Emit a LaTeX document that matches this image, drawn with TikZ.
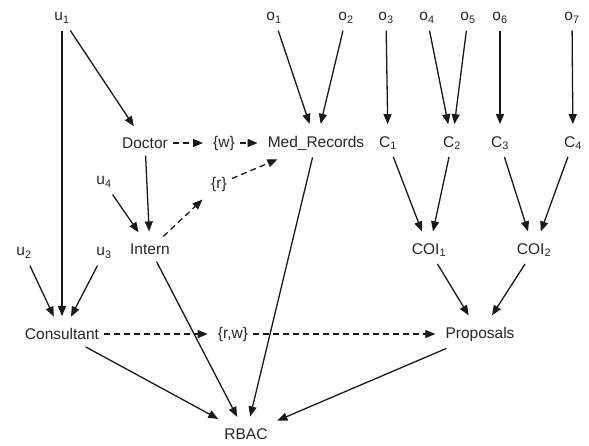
\documentclass[tikz,border=0pt]{standalone}
\usepackage{fontspec}
\setmainfont{Liberation Sans}
\usetikzlibrary{arrows.meta}
\tikzset{
  lbl/.style={inner xsep=5pt, inner ysep=7pt, font=\fontsize{15.5}{17}\selectfont, text=black!85},
  arr/.style={-{Triangle[length=10pt,width=8pt]}, line width=1.3pt, black!90, shorten >=5pt},
  darr/.style={arr, dash pattern=on 6pt off 4pt}
}
\begin{document}
\begin{tikzpicture}[x=1pt,y=-1pt]
        \useasboundingbox (0,0) rectangle (589,445);
        %utenti
        \node[lbl] (u1) at (62,18) {u\textsubscript{1}};
        \node[lbl] (u2) at (24,253) {u\textsubscript{2}};
        \node[lbl] (u3) at (104,253) {u\textsubscript{3}};
        \node[lbl] (u4) at (104,182) {u\textsubscript{4}};
        %oggetti
        \node[lbl] (o1) at (274,18) {o\textsubscript{1}};
        \node[lbl] (o2) at (346,18) {o\textsubscript{2}};
        \node[lbl] (o3) at (386,18) {o\textsubscript{3}};
        \node[lbl] (o4) at (427,18) {o\textsubscript{4}};
        \node[lbl] (o5) at (468,18) {o\textsubscript{5}};
        \node[lbl] (o6) at (500,18) {o\textsubscript{6}};
        \node[lbl] (o7) at (572,18) {o\textsubscript{7}};
        %ruoli
        \node[lbl] (doc) at (145,143) {Doctor};
        \node[lbl] (int) at (150,249) {Intern};
        \node[lbl] (cons) at (62,334) {Consultant};
        %permessi
        \node[lbl] (w) at (224,143) {\{w\}};
        \node[lbl] (r) at (219,184) {\{r\}};
        \node[lbl] (rw) at (233,334) {\{r,w\}};
        %classi
        \node[lbl] (med) at (316,143) {Med\_Records};
        \node[lbl] (c1) at (388,143) {C\textsubscript{1}};
        \node[lbl] (c2) at (452,143) {C\textsubscript{2}};
        \node[lbl] (c3) at (500,143) {C\textsubscript{3}};
        \node[lbl] (c4) at (573,143) {C\textsubscript{4}};
        \node[lbl] (coi1) at (429,250) {COI\textsubscript{1}};
        \node[lbl] (coi2) at (534,250) {COI\textsubscript{2}};
        \node[lbl] (prop) at (480,334) {Proposals};
        \node[lbl] (rbac) at (246,434) {RBAC};

        %assegnazioni
        \draw[arr] (u1) -- (cons);
        \draw[arr] (u1) -- (doc);
        \draw[arr] (u2) -- (cons);
        \draw[arr] (u3) -- (cons);
        \draw[arr] (u4) -- (int);
        \draw[arr] (doc) -- (int);
        \draw[arr] (o1) -- (med);
        \draw[arr] (o2) -- (med);
        \draw[arr] (o3) -- (c1);
        \draw[arr] (o4) -- (c2);
        \draw[arr] (o5) -- (c2);
        \draw[arr] (o6) -- (c3);
        \draw[arr] (o7) -- (c4);
        \draw[arr] (c1) -- (coi1);
        \draw[arr] (c2) -- (coi1);
        \draw[arr] (c3) -- (coi2);
        \draw[arr] (c4) -- (coi2);
        \draw[arr] (coi1) -- (prop);
        \draw[arr] (coi2) -- (prop);
        %permessi
        \draw[darr] (doc) -- (w);
        \draw[darr] (w) -- (med);
        \draw[darr] (int) -- (r);
        \draw[darr] (r) -- (med);
        \draw[darr] (cons) -- (rw);
        \draw[darr] (rw) -- (prop);
        %RBAC
        \draw[arr] (cons) -- (rbac);
        \draw[arr] (int) -- (rbac);
        \draw[arr] (med) -- (rbac);
        \draw[arr] (prop) -- (rbac);
\end{tikzpicture}
\end{document}
